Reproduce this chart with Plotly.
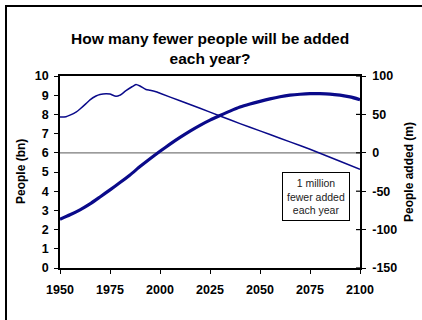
import base64
import plotly.graph_objects as go

# World population (billions), read on the left axis
pop_years = [1950, 1955, 1960, 1965, 1970, 1975, 1980, 1985, 1990, 1995,
             2000, 2005, 2010, 2015, 2020, 2025, 2030, 2035, 2040, 2045,
             2050, 2055, 2060, 2065, 2070, 2075, 2080, 2085, 2090, 2095, 2100]
pop_bn = [2.54, 2.77, 3.03, 3.34, 3.70, 4.07, 4.45, 4.85, 5.28, 5.69,
          6.08, 6.45, 6.80, 7.13, 7.43, 7.70, 7.94, 8.17, 8.38, 8.54,
          8.68, 8.81, 8.92, 9.00, 9.05, 9.08, 9.08, 9.06, 9.00, 8.91, 8.77]

# People added each year (millions), read on the right axis
add_years = [1950, 1953, 1955, 1958, 1960, 1963, 1965, 1968, 1970, 1973,
             1975, 1978, 1980, 1983, 1986, 1988, 1990, 1993, 1995, 1998,
             2000, 2010, 2020, 2030, 2040, 2050, 2060, 2070, 2080, 2090, 2100]
added_m = [46.5, 47, 49, 53, 57, 64, 69, 74, 76, 77,
           76.5, 73.5, 75, 81, 86, 89, 87, 82.5, 81.5, 79.5,
           77.5, 67.8, 58, 48, 38, 28.5, 19, 9.5, -0.5, -11, -21.5]

x_ticks = [1950, 1975, 2000, 2025, 2050, 2075, 2100]
left_ticks = list(range(0, 11))
right_ticks = [-150, -100, -50, 0, 50, 100]
right_labels = ["-150", "-100", "-50", "0", "50", "100"]

NAVY = "#0a0a8a"
FONT = "Liberation Sans, Arial, sans-serif"
W, H = 422, 320

fig = go.Figure()
fig.add_trace(go.Scatter(x=pop_years, y=pop_bn, mode="lines", yaxis="y",
                         line=dict(color=NAVY, width=3.2, shape="spline", smoothing=0.6),
                         hoverinfo="skip", showlegend=False))
fig.add_trace(go.Scatter(x=add_years, y=added_m, mode="lines", yaxis="y2",
                         line=dict(color=NAVY, width=1.5, shape="spline", smoothing=0.5),
                         hoverinfo="skip", showlegend=False))

tickfont = dict(family=FONT, size=12.5, color="black", weight="bold")

fig.update_layout(
    width=W, height=H,
    margin=dict(l=60, r=62, t=76, b=52),
    paper_bgcolor="white", plot_bgcolor="white",
    font=dict(family=FONT, color="black"),
    xaxis=dict(range=[1950, 2100], tickvals=x_ticks, ticks="outside", ticklen=4,
               tickwidth=1.2, tickcolor="black", showline=True, linecolor="black",
               linewidth=1.5, mirror=True, showgrid=False, zeroline=False,
               tickfont=tickfont, ticklabelstandoff=5, fixedrange=True),
    yaxis=dict(range=[0, 10], tickvals=left_ticks, ticks="outside", ticklen=4,
               tickwidth=1.2, tickcolor="black", showline=True, linecolor="black",
               linewidth=1.5, showgrid=False, zeroline=False, tickfont=tickfont,
               ticklabelstandoff=3, fixedrange=True),
    yaxis2=dict(range=[-150, 100], tickvals=right_ticks, ticktext=right_labels,
                overlaying="y", side="right",
                ticks="outside", ticklen=4, tickwidth=1.2, tickcolor="black",
                showline=True, linecolor="black", linewidth=1.5, showgrid=False,
                zeroline=False, tickfont=tickfont, ticklabelstandoff=4, fixedrange=True),
    showlegend=False,
)

# pixel -> paper helpers for the 300x192 px plot area at (60, 76)
def px(x):
    return (x - 60) / 300

def py(y):
    return (268 - y) / 192

# outer frame (left and top edges) as a page-sized overlay image
frame_svg = (
    f'<svg xmlns="http://www.w3.org/2000/svg" width="{W}" height="{H}" '
    f'viewBox="0 0 {W} {H}">'
    '<path d="M6,320 L6,6 L422,6" fill="none" stroke="black" stroke-width="2"/>'
    '</svg>'
)
frame_uri = "data:image/svg+xml;base64," + base64.b64encode(frame_svg.encode()).decode()
fig.add_layout_image(source=frame_uri, xref="paper", yref="paper",
                     x=px(0), y=py(0), sizex=W / 300, sizey=H / 192,
                     xanchor="left", yanchor="top", sizing="stretch", layer="above")

shapes = [
    # zero line of the right axis
    dict(type="line", xref="paper", yref="y2", x0=0, x1=1, y0=0, y1=0,
         line=dict(color="#7a7a7a", width=1.2), layer="below"),
]
# inner halves of the right-axis ticks
for v in right_ticks:
    shapes.append(dict(type="line", xref="paper", yref="y2", x0=1 - 4 / 300, x1=1,
                       y0=v, y1=v, line=dict(color="black", width=1.2)))
fig.update_layout(shapes=shapes)

fig.add_annotation(text="<b>How many fewer people will be added<br>each year?</b>",
                   xref="paper", yref="paper", x=0.5, y=py(48),
                   xanchor="center", yanchor="middle", showarrow=False,
                   font=dict(family=FONT, size=15.5, color="black"))
fig.add_annotation(text="<b>People (bn)</b>", textangle=-90, xref="paper", yref="paper",
                   x=px(21), y=0.5, xanchor="center", yanchor="middle",
                   showarrow=False, font=dict(family=FONT, size=12, color="black"))
fig.add_annotation(text="<b>People added (m)</b>", textangle=-90, xref="paper", yref="paper",
                   x=px(409), y=0.5, xanchor="center", yanchor="middle",
                   showarrow=False, font=dict(family=FONT, size=12, color="black"))
fig.add_annotation(text="1 million<br>fewer added<br>each year", xref="paper", yref="paper",
                   x=px(316), y=py(196), xanchor="center",
                   yanchor="middle", showarrow=False, align="center",
                   bordercolor="black", borderwidth=1, borderpad=4, bgcolor="white",
                   font=dict(family=FONT, size=10.5, color="#222222"))

fig.write_html("out.html")
